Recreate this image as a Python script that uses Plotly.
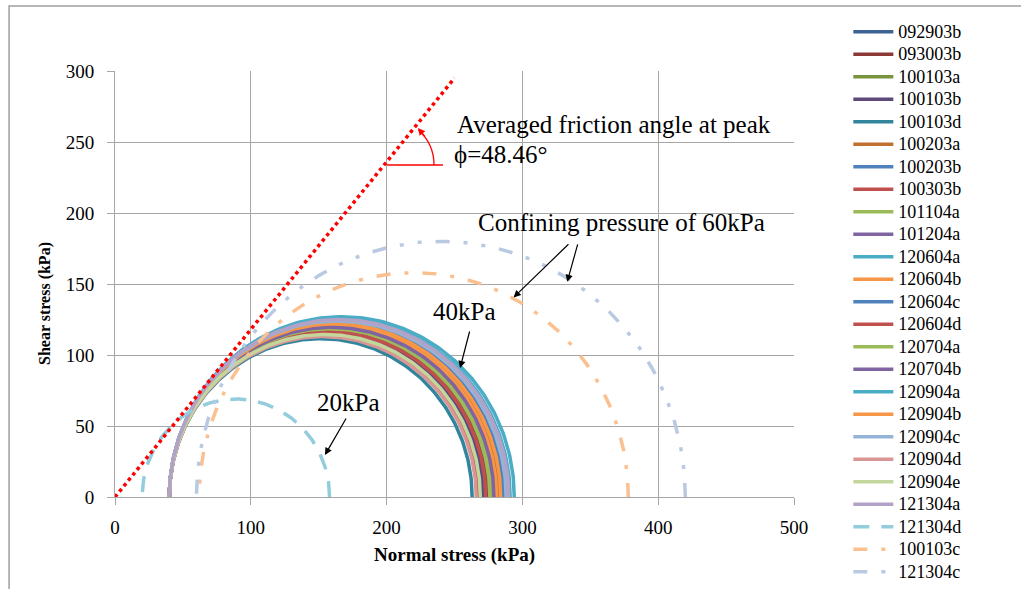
import numpy as np
import plotly.graph_objects as go

# ---------------- data ----------------
names = ["092903b", "093003b", "100103a", "100103b", "100103d", "100203a",
         "100203b", "100303b", "101104a", "101204a", "120604a", "120604b",
         "120604c", "120604d", "120704a", "120704b", "120904a", "120904b",
         "120904c", "120904d", "120904e", "121304a", "121304d", "100103c",
         "121304c"]
# minor principal stress (confining) sigma3, kPa
sigma3 = [40, 40, 40, 40, 40, 40,
          40, 40, 40, 40, 40, 40,
          40, 40, 40, 40, 40, 40,
          40, 40, 40, 40, 20, 62,
          60]
# major principal stress at peak sigma1, kPa
sigma1 = [270, 275, 278, 272, 263, 283,
          285, 268, 276, 280, 294, 281,
          287, 273, 277, 279, 291, 284,
          288, 266, 269, 290, 158, 378,
          420]
colors = ["#3C6394", "#8C3836", "#77933C", "#5F497A", "#31859C", "#C0712F",
          "#4F81BD", "#C0504D", "#9BBB59", "#8064A2", "#4BACC6", "#F79646",
          "#4F81BD", "#C0504D", "#9BBB59", "#8064A2", "#4BACC6", "#F79646",
          "#95B3D7", "#D99694", "#C3D69B", "#B3A2C7", "#93CDDD", "#FAC090",
          "#B9C9E2"]
dashes = ["solid"] * 22 + ["16px,12px", "14px,14px,4px,14px", "14px,14px,4px,14px,4px,14px"]

# averaged failure envelope (peak), drawn as a two-point line
env_x = [0, 250]
env_y = [0, 295]

x_ticks = [0, 100, 200, 300, 400, 500]
y_ticks = [0, 50, 100, 150, 200, 250, 300]

FONT = "Liberation Serif, Times New Roman, serif"
GRID = "#A6A6A6"

fig = go.Figure()
theta = np.linspace(0, np.pi, 181)
for n, s3, s1, c, d in zip(names, sigma3, sigma1, colors, dashes):
    cen = (s1 + s3) / 2.0
    rad = (s1 - s3) / 2.0
    fig.add_trace(go.Scatter(
        x=cen + rad * np.cos(theta), y=rad * np.sin(theta),
        mode="lines", name='<span style="font-size:18px">' + n + '</span>',
        line=dict(color=c, width=3.5, dash=d),
    ))

fig.add_trace(go.Scatter(x=env_x, y=env_y, mode="lines", showlegend=False,
                         line=dict(color="#FF0000", width=3.5, dash="dot")))

# ---------------- annotations ----------------
ann = []
def txt(x, y, s):
    ann.append(dict(x=x, y=y, xref="x", yref="y", text=s, showarrow=False,
                    xanchor="left", yanchor="middle",
                    font=dict(family=FONT, size=25, color="black")))
def arr(x0, y0, x1, y1, color="black"):
    ann.append(dict(x=x1, y=y1, ax=x0, ay=y0, xref="x", yref="y",
                    axref="x", ayref="y", text="", showarrow=True,
                    arrowhead=2, arrowsize=1.2, arrowwidth=1.2, arrowcolor=color))

txt(250.4, 262, "Averaged friction angle at peak")
txt(248.5, 241, "\u03d5=48.46\u00b0")
txt(265.8, 193, "Confining pressure of 60kPa")
txt(232.7, 130.3, "40kPa")
txt(147.3, 66.9, "20kPa")

arr(335, 179, 293.5, 140.5)
arr(341, 179, 333, 151.5)
arr(261.4, 117.6, 254.1, 90.8)
arr(170.8, 56.3, 154.6, 29.6)

# arrowhead of the angle arc
ann.append(dict(x=223.1, y=259.9, xref="x", yref="y", ax=8, ay=10,
                text="", showarrow=True, arrowhead=2, arrowsize=1.1,
                arrowwidth=1.3, arrowcolor="#FF0000"))

# axis titles
ann.append(dict(x=-0.1031, y=0.4554, xref="paper", yref="paper", textangle=-90,
                text="<b>Shear stress (kPa)</b>", showarrow=False,
                xanchor="center", yanchor="middle",
                font=dict(family=FONT, size=16, color="black")))
ann.append(dict(x=0.5007, y=-0.136, xref="paper", yref="paper",
                text="<b>Normal stress (kPa)</b>", showarrow=False,
                xanchor="center", yanchor="middle",
                font=dict(family=FONT, size=19, color="black")))

shapes = [
    # horizontal reference for the angle
    dict(type="line", xref="x", yref="y", x0=200.3, x1=241.5, y0=233.8, y1=233.8,
         line=dict(color="#FF0000", width=1.3)),
    # angle arc (pixel-sized, anchored at the envelope)
    dict(type="path", xref="x", yref="y", xsizemode="pixel", ysizemode="pixel",
         xanchor=200.3, yanchor=233.8,
         path="M 47 0 C 47 13.3, 41.3 26.0, 31.4 34.9",
         line=dict(color="#FF0000", width=1.3)),
    # outer chart frame
    dict(type="rect", xref="paper", yref="paper", x0=-0.156, x1=1.6,
         y0=-0.6, y1=1.1526, line=dict(color="#A0A0A0", width=1.5),
         layer="below"),
]

fig.update_layout(
    width=1021, height=589,
    margin=dict(l=115, r=227, t=71, b=92),
    paper_bgcolor="white", plot_bgcolor="white",
    font=dict(family=FONT, color="black"),
    showlegend=True,
    legend=dict(x=1.08, y=1.13, xanchor="left", yanchor="top",
                font=dict(family=FONT, size=15, color="black"),
                bgcolor="rgba(0,0,0,0)", tracegroupgap=0, maxheight=600,
                itemwidth=40),
    annotations=ann, shapes=shapes,
    xaxis=dict(range=[0, 500], tickvals=x_ticks, showgrid=True, gridcolor=GRID,
               gridwidth=1, zeroline=False, showline=True, linecolor=GRID,
               ticks="outside", ticklen=7, tickcolor=GRID, ticklabelstandoff=6,
               tickfont=dict(family=FONT, size=19, color="black")),
    yaxis=dict(range=[0, 300], tickvals=y_ticks, showgrid=True, gridcolor=GRID,
               gridwidth=1, zeroline=False, showline=True, linecolor=GRID,
               ticks="outside", ticklen=7, tickcolor=GRID, ticklabelstandoff=9,
               tickfont=dict(family=FONT, size=19, color="black")),
)

fig.write_html("out.html")
